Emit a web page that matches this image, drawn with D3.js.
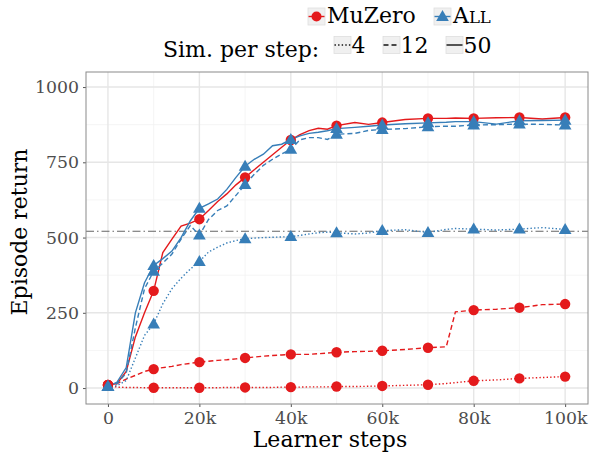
<!DOCTYPE html>
<html><head><meta charset="utf-8">
<script src="https://cdn.jsdelivr.net/npm/d3@7/dist/d3.min.js"></script>
<style>body{margin:0;background:#fff}svg{display:block}text{font-family:"DejaVu Serif",serif}</style>
</head><body><svg id="c" width="591" height="452"></svg>
<script>
const steps = [0,2,4,6,8,10,12,14,16,18,20,22,24,26,28,30,32,34,36,38,40,42,44,46,48,50,54,57,60,65,70,74,76,80,85,90,95,100];
const muzero4  = [10,3,2,2,1,1,1,1,1,1,1,1,1,2,2,2,2,2,2,3,3,3,4,4,4,5,5,6,7,9,11,15,18,24,27,32,35,38];
const muzero12 = [10,15,30,42,55,63,68,72,78,82,86,89,92,94,97,100,103,106,108,110,112,112,112,114,116,119,121,122,124,128,134,137,253,259,262,267,277,279];
const muzero50 = [10,15,55,170,250,323,450,495,538,548,561,590,620,645,675,700,725,750,775,800,824,842,855,863,860,872,882,876,882,892,896,896,897,896,898,899,894,899];
const all4  = [5,8,25,100,175,213,280,330,365,395,420,452,468,482,490,496,498,500,501,502,503,507,512,516,518,516,512,515,523,526,517,527,530,528,525,528,533,527];
const all12 = [5,15,50,200,330,388,415,445,495,540,508,560,590,605,640,676,710,740,760,778,793,825,832,832,826,843,846,856,859,862,868,870,870,874,875,877,876,874];
const all50 = [5,20,68,250,350,407,430,455,500,555,597,612,628,660,700,737,760,777,805,810,826,838,846,850,855,862,866,870,874,878,881,883,885,885,877,888,889,890];
const refLine = 521;
const xTicks = [0,20,40,60,80,100];
const xTickLabels = ["0","20k","40k","60k","80k","100k"];
const yTicks = [0,250,500,750,1000];
const yTickLabels = ["0","250","500","750","1000"];
const simLabels = ["4","12","50"];
const methodLabels = ["MuZero","ALL"];

const svg = d3.select("#c");
const L=86,R=588,T=72,B=404;
const x = d3.scaleLinear().domain([-4.8,105]).range([L,R]);
const y = d3.scaleLinear().domain([-53,1050]).range([B,T]);
const RED="#E41A1C", BLUE="#377EB8";
const dashes = {"4":"1.4,2.2","12":"5,3","50":null};

// grid
const g = svg.append("g");
[125,375,625,875].forEach(v=>g.append("line").attr("x1",L).attr("x2",R).attr("y1",y(v)).attr("y2",y(v)).attr("stroke","#f2f2f2").attr("stroke-width",0.8));
[10,30,50,70,90].forEach(v=>g.append("line").attr("y1",T).attr("y2",B).attr("x1",x(v)).attr("x2",x(v)).attr("stroke","#f2f2f2").attr("stroke-width",0.8));
yTicks.forEach(v=>g.append("line").attr("x1",L).attr("x2",R).attr("y1",y(v)).attr("y2",y(v)).attr("stroke","#e6e6e6").attr("stroke-width",1.4));
xTicks.forEach(v=>g.append("line").attr("y1",T).attr("y2",B).attr("x1",x(v)).attr("x2",x(v)).attr("stroke","#e6e6e6").attr("stroke-width",1.4));

// axes
const ya = svg.append("g").attr("transform",`translate(${L},0)`).call(d3.axisLeft(y).tickValues(yTicks).tickFormat((d,i)=>yTickLabels[i]).tickSize(3).tickPadding(4));
const xa = svg.append("g").attr("transform",`translate(0,${B})`).call(d3.axisBottom(x).tickValues(xTicks).tickFormat((d,i)=>xTickLabels[i]).tickSize(3).tickPadding(5));
[ya,xa].forEach(a=>{a.select(".domain").remove();a.selectAll("line").attr("stroke","#555");a.selectAll("text").attr("font-family","DejaVu Serif").attr("font-size",17.3).attr("fill","#4d4d4d");});

// reference line
svg.append("line").attr("x1",L).attr("x2",R).attr("y1",y(refLine)).attr("y2",y(refLine)).attr("stroke","#666").attr("stroke-width",1.1).attr("stroke-dasharray","8,3,1.5,3");

const line = d3.line().x((d,i)=>x(steps[i])).y(d=>y(d));
const series = [
 {v:muzero4,c:RED,s:"4",m:"c"},{v:muzero12,c:RED,s:"12",m:"c"},{v:muzero50,c:RED,s:"50",m:"c"},
 {v:all4,c:BLUE,s:"4",m:"t"},{v:all12,c:BLUE,s:"12",m:"t"},{v:all50,c:BLUE,s:"50",m:"t"}];
const tri = d3.symbol().type(d3.symbolTriangle).size(70);
series.forEach(sr=>{
  svg.append("path").attr("d",line(sr.v)).attr("fill","none").attr("stroke",sr.c).attr("stroke-width",1.4).attr("stroke-dasharray",dashes[sr.s]);
});
series.forEach(sr=>{
  const pts = sr.v.map((d,i)=>[steps[i],d]).filter(p=>p[0]%10===0);
  if(sr.m==="c") svg.selectAll(null).data(pts).enter().append("circle").attr("cx",p=>x(p[0])).attr("cy",p=>y(p[1])).attr("r",5.2).attr("fill",sr.c);
  else svg.selectAll(null).data(pts).enter().append("path").attr("d",tri).attr("transform",p=>`translate(${x(p[0])},${y(p[1])+0.8})`).attr("fill",sr.c);
});

// panel border
svg.append("rect").attr("x",L).attr("y",T).attr("width",R-L).attr("height",B-T).attr("fill","none").attr("stroke","#8a8a8a").attr("stroke-width",1);

// axis titles
svg.append("text").attr("x",330).attr("y",447).attr("text-anchor","middle").attr("font-size",22).text("Learner steps");
svg.append("text").attr("transform","translate(27,232) rotate(-90)").attr("text-anchor","middle").attr("font-size",22).text("Episode return");

// legend
function key(x0,yc,color,dash,marker){
  svg.append("rect").attr("x",x0).attr("y",yc-8.5).attr("width",17).attr("height",17).attr("fill","#f0f0f0").attr("stroke","#dedede").attr("stroke-width",0.8);
  svg.append("line").attr("x1",x0+0.5).attr("x2",x0+16.5).attr("y1",yc).attr("y2",yc).attr("stroke",color).attr("stroke-width",1.4).attr("stroke-dasharray",dash);
  if(marker==="c") svg.append("circle").attr("cx",x0+8.5).attr("cy",yc).attr("r",5).attr("fill",color);
  if(marker==="t") svg.append("path").attr("d",tri).attr("transform",`translate(${x0+8.5},${yc+0.8})`).attr("fill",color);
}
key(308,16.5,RED,null,"c");
svg.append("text").attr("x",327).attr("y",23).attr("font-size",22).text(methodLabels[0]);
key(434,16.5,BLUE,null,"t");
const at = svg.append("text").attr("x",453).attr("y",23).attr("font-size",22);
at.append("tspan").text(methodLabels[1][0]);
at.append("tspan").attr("font-size",16.5).text(methodLabels[1].slice(1));
svg.append("text").attr("x",163).attr("y",57).attr("font-size",22).text("Sim. per step:");
const kx=[334,383,446];
simLabels.forEach((s,i)=>{
  key(kx[i],45,"#111",dashes[s],null);
  svg.append("text").attr("x",kx[i]+17.5).attr("y",52.5).attr("font-size",22).text(s);
});
</script></body></html>
